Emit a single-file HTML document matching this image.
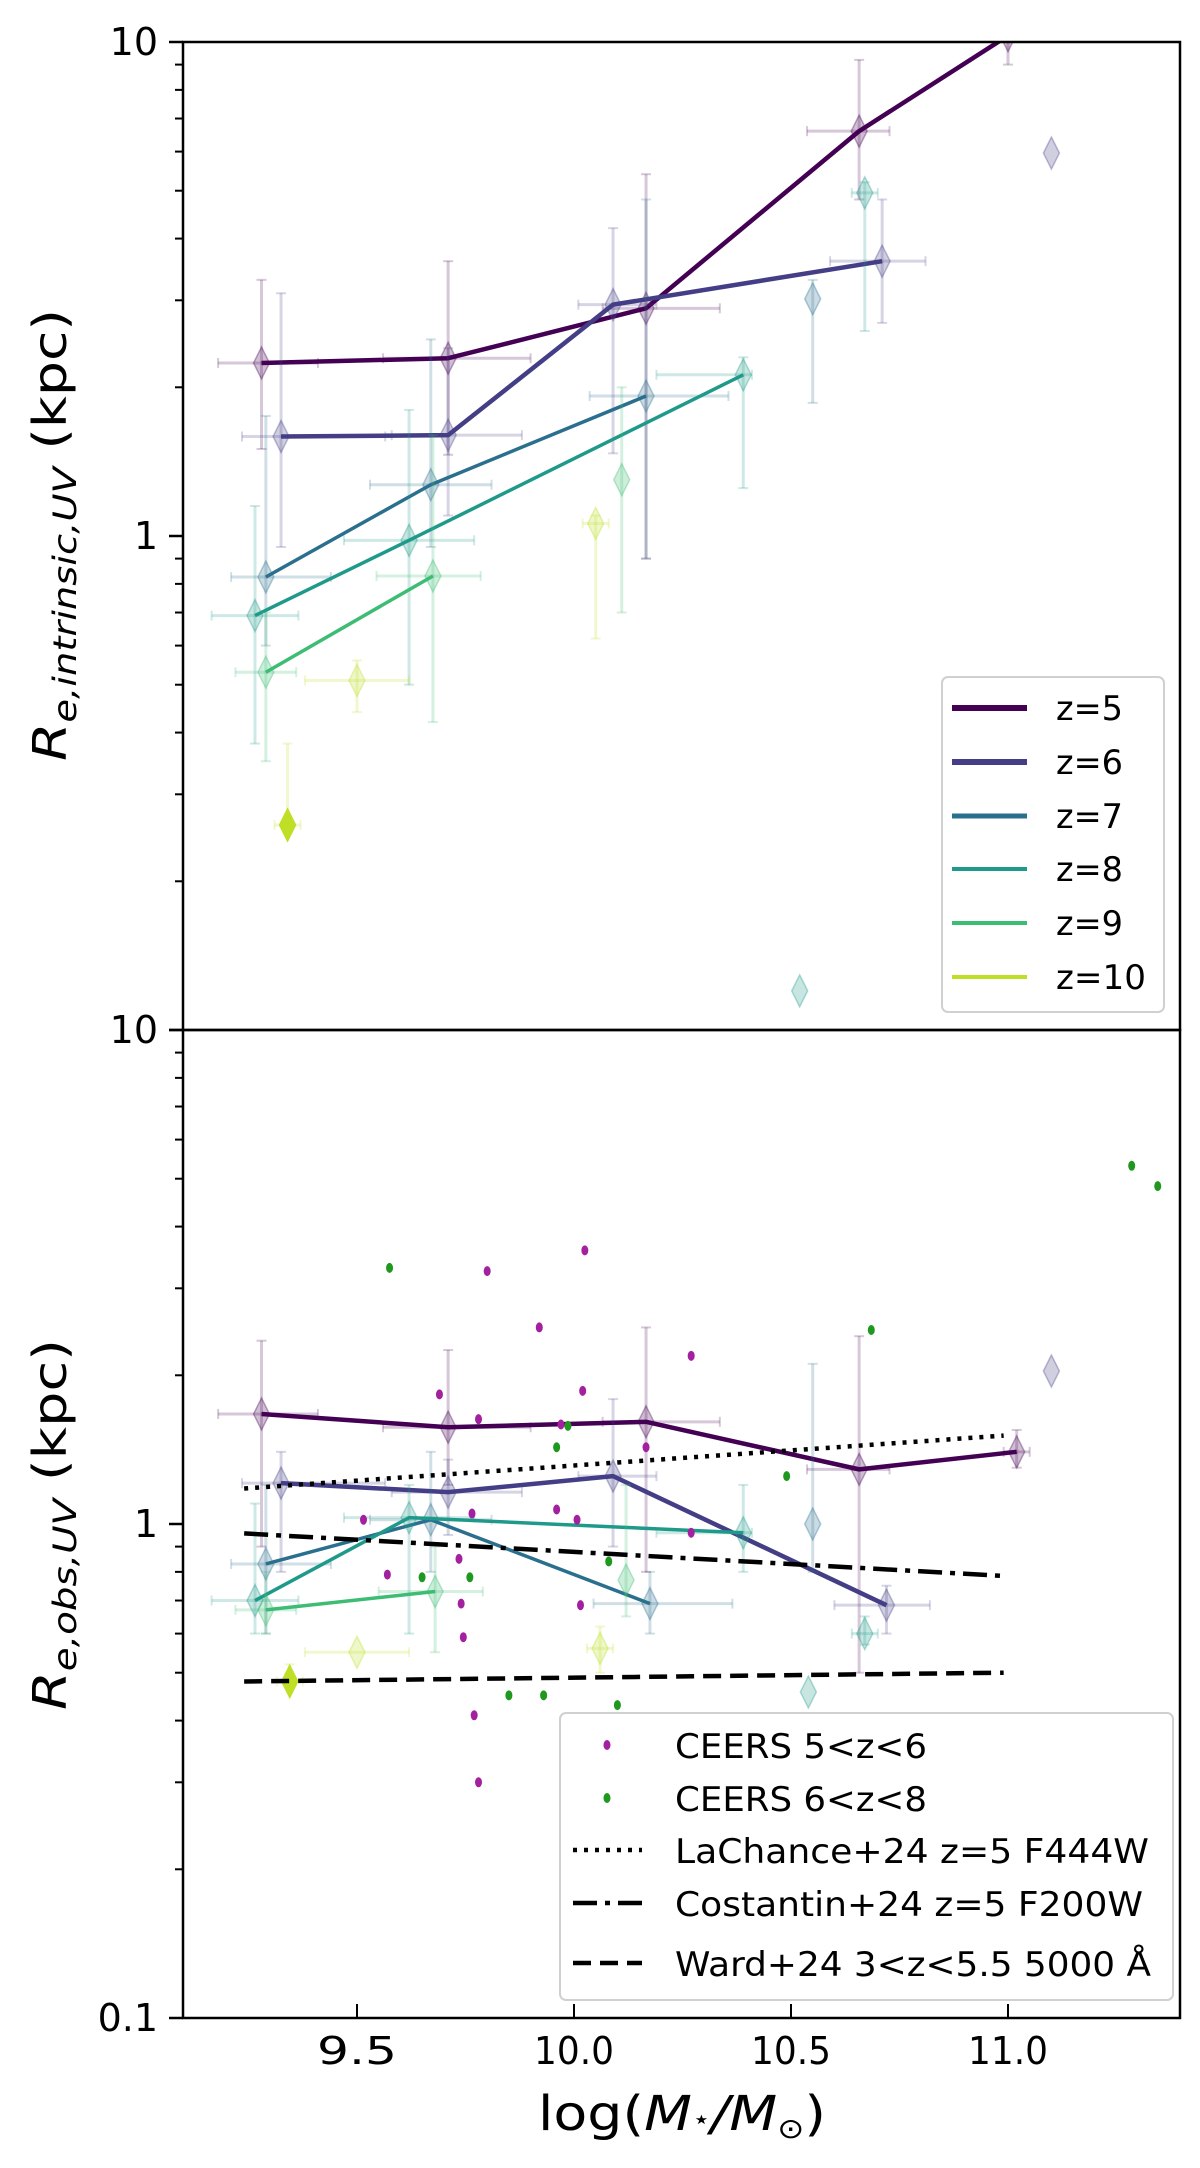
<!DOCTYPE html>
<html><head><meta charset="utf-8"><style>
html,body{margin:0;padding:0;background:#fff;}
svg{display:block;}
text{font-family:"DejaVu Sans","Liberation Sans",sans-serif;}
</style></head>
<body>
<svg id="chart" xmlns="http://www.w3.org/2000/svg" width="1200" height="2168" viewBox="0 0 1200 2168">
<rect width="1200" height="2168" fill="#fff"/>
<g id="top-panel"></g>
<g id="bot-panel"></g>
<g id="axes"></g>
</svg>
<script>
// ---------- DATA ----------
const redshiftLabels = ["z=5","z=6","z=7","z=8","z=9","z=10"];
const seriesColors = ["#440154","#433e85","#2b6f8e","#1f9a8a","#3dbc74","#bddf26"];
// Top panel: intrinsic UV size
const topMass = [[9.28,9.71,10.166,10.657,11.0],[9.325,9.71,10.09,10.71],[9.29,9.67,10.166],[9.265,9.62,10.39],[9.29,9.675],[]];
const topR    = [[2.24,2.29,2.89,6.6,10.3],[1.59,1.60,2.94,3.6],[0.826,1.27,1.92],[0.69,0.98,2.12],[0.53,0.83],[]];
const topXLo  = [[0.10,0.15,0.10,0.12,0.05],[0.09,0.13,0.08,0.12],[0.08,0.14,0.13],[0.10,0.15,0.20],[0.07,0.13],[]];
const topXHi  = [[0.13,0.19,0.17,0.07,0.05],[0.24,0.17,0.10,0.10],[0.15,0.14,0.19],[0.10,0.15,0.02],[0.07,0.11],[]];
const topRLo  = [[1.5,1.46,0.9,4.8,9],[0.95,1.1,1.47,2.7],[0.6,0.95,0.9],[0.38,0.5,1.25],[0.35,0.42],[]];
const topRHi  = [[3.3,3.6,5.4,9.2,11],[3.1,2.4,4.2,4.8],[1.75,2.5,4.8],[1.15,1.8,2.3],[0.7,1.6],[]];
// isolated top points: series index, mass, r, rLo, rHi, xErr
const topLoneSeries = [1,2,3,3,4,5,5,5];
const topLoneMass   = [11.1,10.55,10.67,10.52,10.11,9.34,9.50,10.05];
const topLoneR      = [5.96,3.02,4.95,0.12,1.30,0.26,0.51,1.06];
const topLoneRLo    = [5.96,1.86,2.6,0.12,0.7,0.25,0.44,0.62];
const topLoneRHi    = [5.96,3.3,5.2,0.12,2.0,0.38,0.56,1.1];
const topLoneXErr   = [0,0,0.03,0,0,0.03,0.12,0.03];
const topLoneFilled = [false,false,false,false,false,true,false,false];
// Bottom panel: observed UV size
const botMass = [[9.28,9.71,10.166,10.657,11.02],[9.325,9.71,10.09,10.72],[9.29,9.67,10.175],[9.265,9.62,10.39],[9.29,9.68],[]];
const botR    = [[1.67,1.57,1.61,1.29,1.40],[1.21,1.16,1.25,0.685],[0.83,1.02,0.69],[0.70,1.03,0.96],[0.67,0.73],[]];
const botXLo  = [[0.10,0.15,0.10,0.12,0.03],[0.09,0.13,0.08,0.12],[0.08,0.14,0.13],[0.10,0.15,0.20],[0.07,0.13],[]];
const botXHi  = [[0.13,0.19,0.17,0.07,0.03],[0.24,0.17,0.10,0.10],[0.15,0.14,0.19],[0.10,0.15,0.02],[0.07,0.11],[]];
const botRLo  = [[0.9,1.2,0.8,0.5,1.3],[0.8,0.95,0.9,0.6],[0.6,0.8,0.6],[0.6,0.6,0.8],[0.6,0.55],[]];
const botRHi  = [[2.35,2.25,2.5,2.4,1.55],[1.4,1.35,1.79,0.75],[1.2,1.4,0.8],[1.1,1.2,1.2],[0.8,0.9],[]];
const botLoneSeries = [1,2,3,3,4,5,5,5];
const botLoneMass   = [11.1,10.55,10.67,10.54,10.12,9.345,9.50,10.06];
const botLoneR      = [2.04,1.0,0.60,0.457,0.77,0.48,0.55,0.56];
const botLoneRLo    = [2.04,0.8,0.57,0.457,0.65,0.47,0.55,0.50];
const botLoneRHi    = [2.04,2.11,0.65,0.457,1.2,0.52,0.55,0.62];
const botLoneXErr   = [0,0,0.03,0,0,0.03,0.12,0.03];
const botLoneFilled = [false,false,false,false,false,true,false,false];
// CEERS points
const ceers56Mass = [10.025,9.80,9.92,10.27,9.69,10.02,9.78,9.97,10.166,9.515,9.765,9.96,10.007,10.27,9.735,9.57,9.74,10.015,9.745,9.77,9.78];
const ceers56R    = [3.58,3.25,2.50,2.19,1.83,1.86,1.63,1.59,1.43,1.02,1.05,1.07,1.02,0.96,0.85,0.79,0.69,0.685,0.59,0.41,0.30];
const ceers68Mass = [9.575,11.285,11.345,10.685,9.986,9.96,10.49,10.08,9.65,9.76,9.85,9.93,10.10];
const ceers68R    = [3.30,5.31,4.83,2.47,1.58,1.43,1.25,0.84,0.78,0.78,0.45,0.45,0.43];
// Literature relations (mass endpoints, size endpoints)
const relMass = [9.24,10.99];
const lachanceR  = [1.18,1.51];
const costantinR = [0.957,0.785];
const wardR      = [0.48,0.50];
// Axis ticks
const xTicks = [9.5,10.0,10.5,11.0];
const xTickLabels = ["9.5","10.0","10.5","11.0"];

// ---------- AXES ----------
const X0=183, X1=1180, MMIN=9.0991, MMAX=11.3963;
const TOP_Y0=42, BOT_Y0=1030, DEC=494;
function xs(m){return X0+(m-MMIN)/(MMAX-MMIN)*(X1-X0);}
function ysTop(r){return TOP_Y0+(1-Math.log10(r))*DEC;}
function ysBot(r){return BOT_Y0+(1-Math.log10(r))*DEC;}
const NS="http://www.w3.org/2000/svg";
function mk(tag,attrs,parent){const e=document.createElementNS(NS,tag);for(const k in attrs)e.setAttribute(k,attrs[k]);parent.appendChild(e);return e;}

function diamond(g,x,y,col,filled){
  const d=mk("path",{d:`M${x},${y-16} L${x+8},${y} L${x},${y+16} L${x-8},${y} Z`,fill:col,"fill-opacity":filled?1:0.25,stroke:col,"stroke-opacity":filled?1:0.35,"stroke-width":1.5},g);
  
  
}
function errbar(g,x,y,xl,xr,yt,yb,col,alpha){
  const e=mk("g",{stroke:col,"stroke-opacity":alpha,"stroke-width":3},g);
  
  
  if(xr-xl>1){mk("line",{x1:xl,y1:y,x2:xr,y2:y},e);mk("line",{x1:xl,y1:y-5,x2:xl,y2:y+5,"stroke-width":2},e);mk("line",{x1:xr,y1:y-5,x2:xr,y2:y+5,"stroke-width":2},e);}
  if(yb-yt>1){mk("line",{x1:x,y1:yt,x2:x,y2:yb},e);mk("line",{x1:x-5,y1:yt,x2:x+5,y2:yt,"stroke-width":2},e);mk("line",{x1:x-5,y1:yb,x2:x+5,y2:yb,"stroke-width":2},e);}
}

function drawPanel(gid,ys,mass,R,xlo,xhi,rlo,rhi,ls,lm,lr,lrlo,lrhi,lxe,lf,y0){
  const g=document.getElementById(gid);
  const cp=mk("clipPath",{id:gid+"-clip"},g);
  mk("rect",{x:X0,y:y0,width:X1-X0,height:2*DEC},cp);
  const inner=mk("g",{"clip-path":`url(#${gid}-clip)`},g);
  for(let s=0;s<mass.length;s++){
    const col=seriesColors[s];
    const sg=mk("g",{},inner);
    
    
    for(let i=0;i<mass[s].length;i++){
      const x=xs(mass[s][i]),y=ys(R[s][i]);
      errbar(sg,x,y,xs(mass[s][i]-xlo[s][i]),xs(mass[s][i]+xhi[s][i]),ys(rhi[s][i]),ys(rlo[s][i]),col,0.22);
      diamond(sg,x,y,col,false);
    }
    if(mass[s].length){
      const pts=mass[s].map((m,i)=>xs(m)+","+ys(R[s][i])).join(" ");
      const pl=mk("polyline",{points:pts,fill:"none",stroke:col,"stroke-width":s<2?4.5:3.5,"stroke-linejoin":"round"},sg);
      
      
    }
  }
  for(let i=0;i<lm.length;i++){
    const col=seriesColors[ls[i]];
    const x=xs(lm[i]),y=ys(lr[i]);
    errbar(inner,x,y,xs(lm[i]-lxe[i]),xs(lm[i]+lxe[i]*(lxe[i]>0.1?1:1)),ys(lrhi[i]),ys(lrlo[i]),col,0.22);
    diamond(inner,x,y,col,lf[i]);
  }
  return inner;
}

const topInner=drawPanel("top-panel",ysTop,topMass,topR,topXLo,topXHi,topRLo,topRHi,topLoneSeries,topLoneMass,topLoneR,topLoneRLo,topLoneRHi,topLoneXErr,topLoneFilled,TOP_Y0);
const botInner=drawPanel("bot-panel",ysBot,botMass,botR,botXLo,botXHi,botRLo,botRHi,botLoneSeries,botLoneMass,botLoneR,botLoneRLo,botLoneRHi,botLoneXErr,botLoneFilled,BOT_Y0);

// CEERS scatter
for(let i=0;i<ceers56Mass.length;i++){
  const c=mk("ellipse",{cx:xs(ceers56Mass[i]),cy:ysBot(ceers56R[i]),rx:3.5,ry:5,fill:"#a3219f"},botInner);
  
  
}
for(let i=0;i<ceers68Mass.length;i++){
  const c=mk("ellipse",{cx:xs(ceers68Mass[i]),cy:ysBot(ceers68R[i]),rx:3.5,ry:5,fill:"#1e981e"},botInner);
  
  
}
// literature lines
const rels=[[lachanceR,"4 7","lachance-relation"],[costantinR,"24 8 5 8","costantin-relation"],[wardR,"18 9","ward-relation"]];
for(const [rr,dash,name] of rels){
  const l=mk("line",{x1:xs(relMass[0]),y1:ysBot(rr[0]),x2:xs(relMass[1]),y2:ysBot(rr[1]),stroke:"#000","stroke-width":4.5,"stroke-dasharray":dash},botInner);
  
  
}

// ---------- FRAMES, TICKS ----------
const ax=document.getElementById("axes");
for(const y0 of [TOP_Y0,BOT_Y0]){
  const f=mk("rect",{x:X0,y:y0,width:X1-X0,height:2*DEC,fill:"none",stroke:"#000","stroke-width":2.5},ax);
  
  
  for(let d=0;d<2;d++){
    for(let k=2;k<=9;k++){
      const y=y0+d*DEC+(1-Math.log10(k))*DEC;
      mk("line",{x1:X0-8,y1:y,x2:X0,y2:y,stroke:"#000","stroke-width":2},ax);
    }
  }
  for(let d=0;d<=2;d++){
    const y=y0+d*DEC;
    mk("line",{x1:X0-14,y1:y,x2:X0,y2:y,stroke:"#000","stroke-width":2.5},ax);
  }
}
const ytl=[["10",TOP_Y0],["1",TOP_Y0+DEC],["10",BOT_Y0],["1",BOT_Y0+DEC],["0.1",BOT_Y0+2*DEC]];
for(const [t,y] of ytl){
  const e=mk("text",{x:158,y:y+13,"text-anchor":"end","font-size":38},ax);
  e.textContent=t;
  
  
}
for(let i=0;i<xTicks.length;i++){
  const x=xs(xTicks[i]);
  mk("line",{x1:x,y1:BOT_Y0+2*DEC,x2:x,y2:BOT_Y0+2*DEC-14,stroke:"#000","stroke-width":2},ax);
  const e=mk("text",{x:x,y:2064,"text-anchor":"middle","font-size":38,textLength:80,lengthAdjust:"spacingAndGlyphs"},ax);
  e.textContent=xTickLabels[i];
  
  
}
</script>
<svg style="position:absolute;left:0;top:0" width="1200" height="2168" xmlns="http://www.w3.org/2000/svg">
<text x="538" y="2130" font-size="48" textLength="288" lengthAdjust="spacingAndGlyphs">log(<tspan font-style="italic">M</tspan><tspan font-size="26" dy="-2">⋆</tspan><tspan dy="2" font-style="italic">/M</tspan><tspan font-size="28" dy="8">⊙</tspan><tspan dy="-8">)</tspan></text>
<text transform="translate(66,761) rotate(-90)" font-size="46" textLength="452" lengthAdjust="spacingAndGlyphs"><tspan font-style="italic">R</tspan><tspan font-style="italic" font-size="32" dy="10">e,intrinsic,UV</tspan><tspan dy="-10"> (kpc)</tspan></text>
<text transform="translate(66,1710) rotate(-90)" font-size="46" textLength="371" lengthAdjust="spacingAndGlyphs"><tspan font-style="italic">R</tspan><tspan font-style="italic" font-size="32" dy="10">e,obs,UV</tspan><tspan dy="-10"> (kpc)</tspan></text>
<g>
<rect x="942" y="677" width="222" height="335" rx="6" fill="#fff" fill-opacity="0.85" stroke="#d0d0d0" stroke-width="2"/>
<g><line x1="952" y1="708" x2="1027" y2="708" stroke="#440154" stroke-width="6"/><text x="1056" y="720" font-size="34" textLength="67" lengthAdjust="spacingAndGlyphs">z=5</text></g>
<g><line x1="952" y1="762" x2="1027" y2="762" stroke="#433e85" stroke-width="6"/><text x="1056" y="774" font-size="34" textLength="67" lengthAdjust="spacingAndGlyphs">z=6</text></g>
<g><line x1="952" y1="816" x2="1027" y2="816" stroke="#2b6f8e" stroke-width="5"/><text x="1056" y="828" font-size="34" textLength="67" lengthAdjust="spacingAndGlyphs">z=7</text></g>
<g><line x1="952" y1="869" x2="1027" y2="869" stroke="#1f9a8a" stroke-width="4"/><text x="1056" y="881" font-size="34" textLength="67" lengthAdjust="spacingAndGlyphs">z=8</text></g>
<g><line x1="952" y1="923" x2="1027" y2="923" stroke="#3dbc74" stroke-width="4"/><text x="1056" y="935" font-size="34" textLength="67" lengthAdjust="spacingAndGlyphs">z=9</text></g>
<g><line x1="952" y1="977" x2="1027" y2="977" stroke="#bddf26" stroke-width="4"/><text x="1056" y="989" font-size="34" textLength="90" lengthAdjust="spacingAndGlyphs">z=10</text></g>
</g>
<g>
<rect x="560" y="1713" width="613" height="287" rx="6" fill="#fff" fill-opacity="0.85" stroke="#d0d0d0" stroke-width="2"/>
<g><ellipse cx="607" cy="1745" rx="3.5" ry="5" fill="#a3219f"/><text x="675" y="1758" font-size="34" textLength="252" lengthAdjust="spacingAndGlyphs">CEERS 5&lt;z&lt;6</text></g>
<g><ellipse cx="607" cy="1798" rx="3.5" ry="5" fill="#1e981e"/><text x="675" y="1811" font-size="34" textLength="252" lengthAdjust="spacingAndGlyphs">CEERS 6&lt;z&lt;8</text></g>
<g><line x1="573" y1="1850" x2="642" y2="1850" stroke="#000" stroke-width="4.5" stroke-dasharray="4 7"/><text x="675" y="1863" font-size="34" textLength="474" lengthAdjust="spacingAndGlyphs">LaChance+24 z=5 F444W</text></g>
<g><line x1="573" y1="1903" x2="642" y2="1903" stroke="#000" stroke-width="4.5" stroke-dasharray="24 8 5 8"/><text x="675" y="1916" font-size="34" textLength="468" lengthAdjust="spacingAndGlyphs">Costantin+24 z=5 F200W</text></g>
<g><line x1="573" y1="1963" x2="642" y2="1963" stroke="#000" stroke-width="4.5" stroke-dasharray="18 9"/><text x="675" y="1976" font-size="34" textLength="476" lengthAdjust="spacingAndGlyphs">Ward+24 3&lt;z&lt;5.5 5000 Å</text></g>
</g>
</svg>
</body></html>
